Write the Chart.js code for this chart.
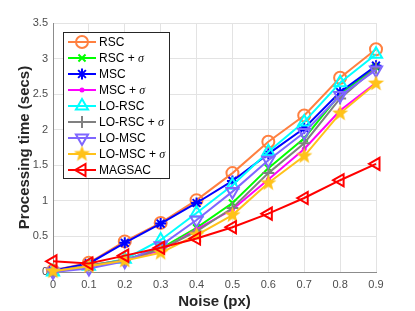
<!DOCTYPE html>
<html>
<head>
<meta charset="utf-8">
<script src="https://cdn.jsdelivr.net/npm/chart.js@4.4.1/dist/chart.umd.min.js"></script>
<style>
  html, body { margin: 0; padding: 0; background: #fff; }
  #wrap { width: 415px; height: 311px; }
</style>
</head>
<body>
<div id="wrap"><canvas id="timeChart" width="415" height="311"></canvas></div>
<script>
// noise levels (x) and tick labels
var noise = [0, 0.1, 0.2, 0.3, 0.4, 0.5, 0.6, 0.7, 0.8, 0.9];
var xTicks = [0, 0.1, 0.2, 0.3, 0.4, 0.5, 0.6, 0.7, 0.8, 0.9];
var xTickLabels = ['0', '0.1', '0.2', '0.3', '0.4', '0.5', '0.6', '0.7', '0.8', '0.9'];
var yTicks = [0, 0.5, 1, 1.5, 2, 2.5, 3, 3.5];
var yTickLabels = ['0', '0.5', '1', '1.5', '2', '2.5', '3', '3.5'];

// processing time (secs) per method
var rsc        = [0.02, 0.13, 0.43, 0.69, 1.01, 1.39, 1.83, 2.20, 2.73, 3.13];
var rscSigma   = [0.01, 0.09, 0.17, 0.33, 0.62, 0.97, 1.46, 1.88, 2.50, 2.88];
var msc        = [0.02, 0.12, 0.41, 0.68, 0.97, 1.28, 1.66, 2.02, 2.53, 2.90];
var mscSigma   = [0.01, 0.08, 0.17, 0.30, 0.60, 0.88, 1.30, 1.73, 2.27, 2.66];
var loRsc      = [0.00, 0.08, 0.18, 0.45, 0.83, 1.22, 1.69, 2.11, 2.66, 3.06];
var loRscSigma = [0.01, 0.09, 0.17, 0.32, 0.57, 0.90, 1.39, 1.81, 2.44, 2.87];
var loMsc      = [0.00, 0.05, 0.15, 0.37, 0.73, 1.13, 1.57, 1.96, 2.48, 2.84];
var loMscSigma = [0.01, 0.08, 0.16, 0.27, 0.52, 0.80, 1.25, 1.63, 2.23, 2.65];
var magsac     = [0.15, 0.12, 0.23, 0.34, 0.47, 0.63, 0.82, 1.04, 1.29, 1.52];

// filled five point star for LO-MSC + sigma
function makeStar(color, r) {
    var c = document.createElement('canvas');
    var s = Math.ceil(r * 2 + 2);
    c.width = s; c.height = s;
    var g = c.getContext('2d');
    g.beginPath();
    for (var k = 0; k < 10; k++) {
        var rad = (k % 2 === 0) ? r : r * 0.42;
        var a = -Math.PI / 2 + k * Math.PI / 5;
        var px = s / 2 + rad * Math.cos(a), py = s / 2 + rad * Math.sin(a);
        if (k === 0) g.moveTo(px, py); else g.lineTo(px, py);
    }
    g.closePath();
    g.fillStyle = color;
    g.fill();
    return c;
}
var starImg = makeStar('#FFC21A', 8.5);

var series = [
    {label: 'RSC', sigma: false, data: rsc, color: '#FF8040', style: 'circle', r: 6, rot: 0},
    {label: 'RSC + ', sigma: true, data: rscSigma, color: '#00FF00', style: 'crossRot', r: 5, rot: 0},
    {label: 'MSC', sigma: false, data: msc, color: '#0000FF', style: 'star', r: 5.5, rot: 0},
    {label: 'MSC + ', sigma: true, data: mscSigma, color: '#FF00FF', style: 'circle', r: 1.5, rot: 0, fill: true},
    {label: 'LO-RSC', sigma: false, data: loRsc, color: '#00FFFF', style: 'triangle', r: 7, rot: 0},
    {label: 'LO-RSC + ', sigma: true, data: loRscSigma, color: '#808080', style: 'cross', r: 6, rot: 0},
    {label: 'LO-MSC', sigma: false, data: loMsc, color: '#7F66FF', style: 'triangle', r: 7, rot: 180},
    {label: 'LO-MSC + ', sigma: true, data: loMscSigma, color: '#FFC21A', style: starImg, r: 8, rot: 0},
    {label: 'MAGSAC', sigma: false, data: magsac, color: '#FF0000', style: 'triangle', r: 7, rot: 270}
];

var datasets = [];
for (var i = 0; i < series.length; i++) {
    var s = series[i];
    var pts = [];
    for (var j = 0; j < noise.length; j++) pts.push({x: noise[j], y: s.data[j]});
    datasets.push({
        label: s.label + (s.sigma ? 'σ' : ''),
        data: pts,
        borderColor: s.color,
        backgroundColor: s.color,
        borderWidth: 2,
        pointStyle: s.style,
        pointRadius: s.r,
        pointRotation: s.rot,
        pointBorderWidth: 2,
        pointBackgroundColor: s.fill ? s.color : 'rgba(0,0,0,0)',
        pointBorderColor: s.color,
        tension: 0,
        clip: false,
        order: series.length - i
    });
}

// legend box drawn inside the axes like the matlab one
var insideLegend = {
    id: 'insideLegend',
    afterDatasetsDraw: function(chart) {
        var ctx = chart.ctx;
        var bx = 63, by = 32, bw = 106, bh = 146;
        ctx.save();
        ctx.fillStyle = '#fff';
        ctx.fillRect(bx, by, bw, bh);
        ctx.strokeStyle = '#262626';
        ctx.lineWidth = 1;
        ctx.strokeRect(bx + 0.5, by + 0.5, bw, bh);
        for (var i = 0; i < series.length; i++) {
            var s = series[i];
            var y = 42 + i * 16;
            ctx.strokeStyle = s.color;
            ctx.lineWidth = 2;
            ctx.beginPath();
            ctx.moveTo(68, y);
            ctx.lineTo(96, y);
            ctx.stroke();
            // drawPoint fills and strokes with the current styles
            ctx.fillStyle = s.fill ? s.color : 'rgba(0,0,0,0)';
            ctx.strokeStyle = s.color;
            ctx.lineWidth = 2;
            Chart.helpers.drawPoint(ctx, {
                pointStyle: s.style, radius: s.r, rotation: s.rot, borderWidth: 2
            }, 82, y);
            ctx.fillStyle = '#000';
            ctx.font = '12px "Liberation Sans", Arial, sans-serif';
            ctx.textBaseline = 'middle';
            ctx.textAlign = 'left';
            ctx.fillText(s.label, 99, y + 1);
            if (s.sigma) {
                var w = ctx.measureText(s.label).width;
                ctx.font = 'italic 12px "Liberation Serif", serif';
                ctx.fillText('σ', 99 + w, y + 1);
            }
        }
        ctx.restore();
    }
};

var ctx = document.getElementById('timeChart');
var myChart = new Chart(ctx, {
    type: 'line',
    data: {datasets: datasets},
    options: {
        responsive: false,
        animation: false,
        layout: {padding: {top: 23, right: 39, left: 0, bottom: 0}},
        plugins: {
            legend: {display: false},
            tooltip: {enabled: false}
        },
        scales: {
            x: {
                type: 'linear',
                min: 0,
                max: 0.9,
                afterBuildTicks: function(scale) {
                    scale.ticks = xTicks.map(function(v) { return {value: v}; });
                },
                afterFit: function(scale) { scale.height = 39; },
                ticks: {
                    padding: 6,
                    color: '#4d4d4d',
                    font: {family: '"Liberation Sans", Arial', size: 11},
                    maxRotation: 0,
                    callback: function(v, idx) { return xTickLabels[idx]; }
                },
                grid: {color: '#e3e3e3', drawTicks: false},
                border: {color: '#8c8c8c', width: 1},
                title: {
                    display: true,
                    text: 'Noise (px)',
                    color: '#262626',
                    font: {family: '"Liberation Sans", Arial', size: 15, weight: 'bold'},
                    padding: {top: 0, bottom: 0}
                }
            },
            y: {
                type: 'linear',
                min: 0,
                max: 3.5,
                afterBuildTicks: function(scale) {
                    scale.ticks = yTicks.map(function(v) { return {value: v}; });
                },
                afterFit: function(scale) { scale.width = 53; },
                ticks: {
                    padding: 5,
                    color: '#4d4d4d',
                    font: {family: '"Liberation Sans", Arial', size: 11},
                    callback: function(v, idx) { return yTickLabels[idx]; }
                },
                grid: {color: '#e3e3e3', drawTicks: false},
                border: {color: '#8c8c8c', width: 1},
                title: {
                    display: true,
                    text: 'Processing time (secs)',
                    color: '#262626',
                    font: {family: '"Liberation Sans", Arial', size: 15, weight: 'bold'},
                    padding: {top: 16, bottom: 0}
                }
            }
        }
    },
    plugins: [insideLegend]
});
</script>
</body>
</html>
